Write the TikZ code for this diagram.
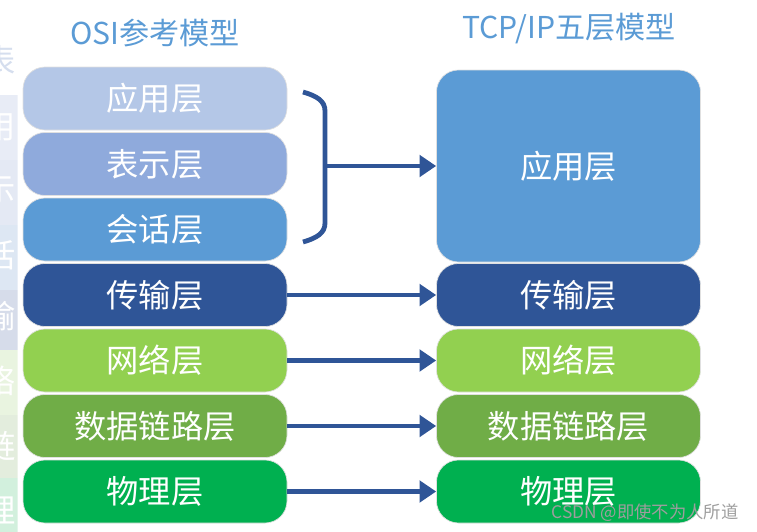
\documentclass[tikz,border=0pt]{standalone}
\usepackage{fontspec}
\setmainfont{Noto Sans CJK SC}
\usetikzlibrary{arrows.meta}

\definecolor{appcol}{HTML}{B4C7E7}
\definecolor{prescol}{HTML}{8FAADC}
\definecolor{sesscol}{HTML}{5B9BD5}
\definecolor{transcol}{HTML}{2F5597}
\definecolor{netcol}{HTML}{92D050}
\definecolor{linkcol}{HTML}{70AD47}
\definecolor{physcol}{HTML}{00B050}
\definecolor{arrowblue}{HTML}{2F5597}
\definecolor{titleblue}{HTML}{5B9BD5}

\tikzset{
    layer/.style={rounded corners=16.5pt, draw=black!12, line width=0.5pt,
        text=white, minimum width=198pt, minimum height=47.25pt, inner sep=0pt,
        font=\fontsize{24.2}{28}\selectfont},
    maparrow/.style={draw=arrowblue, line width=3.6pt,
        -{Triangle[length=12.5pt,width=16pt]}},
    bracepen/.style={draw=arrowblue, line width=3.6pt},
    title/.style={text=titleblue, font=\fontsize{22.6}{26}\selectfont},
    ghost/.style={text=white, font=\fontsize{24.2}{28}\selectfont}
}

\begin{document}
\begin{tikzpicture}[x=0.75pt, y=-0.75pt]
    \useasboundingbox (0,0) rectangle (757,532);

    % faded remains of the slide behind, cut at the left edge
    \begin{scope}
        \clip (0,0) rectangle (17.5,532);
        \fill[fill={rgb,255:red,232;green,236;blue,246}] (0,95) rectangle (17.5,160);
        \fill[fill={rgb,255:red,228;green,233;blue,244}] (0,160) rectangle (17.5,225);
        \fill[fill={rgb,255:red,221;green,231;blue,243}] (0,225) rectangle (17.5,290);
        \fill[fill={rgb,255:red,214;green,220;blue,234}] (0,290) rectangle (17.5,350);
        \fill[fill={rgb,255:red,233;green,244;blue,224}] (0,350) rectangle (17.5,415);
        \fill[fill={rgb,255:red,227;green,237;blue,221}] (0,415) rectangle (17.5,478);
        \fill[fill={rgb,255:red,210;green,240;blue,221}] (0,478) rectangle (17.5,532);
        \node[ghost, text={rgb,255:red,213;green,222;blue,238}] (ghosttop) at (0,60) {表};
        \node[ghost] (ghostapp) at (0,127) {用};
        \node[ghost] (ghostpres) at (0,190) {示};
        \node[ghost] (ghostsess) at (0,255) {话};
        \node[ghost] (ghosttrans) at (0,316) {输};
        \node[ghost] (ghostnet) at (0,381) {络};
        \node[ghost] (ghostlink) at (0,446) {链};
        \node[ghost] (ghostphys) at (0,510) {理};
    \end{scope}

    % titles
    \node[title] (osititle) at (155,33) {OSI参考模型};
    \node[title] (tcptitle) at (569,29) {TCP/IP五层模型};

    % OSI seven layers
    \node[layer, fill=appcol] (osiapp) at (155,98.5) {应用层};
    \node[layer, fill=prescol] (osipres) at (155,164) {表示层};
    \node[layer, fill=sesscol] (osisess) at (155,229.5) {会话层};
    \node[layer, fill=transcol] (ositrans) at (155,295) {传输层};
    \node[layer, fill=netcol] (osinet) at (155,360.5) {网络层};
    \node[layer, fill=linkcol] (osilink) at (155,426) {数据链路层};
    \node[layer, fill=physcol] (osiphys) at (155,491.5) {物理层};

    % TCP/IP five layers
    \node[layer, fill=sesscol, minimum height=144pt] (tcpapp) at (568.5,166) {应用层};
    \node[layer, fill=transcol] (tcptrans) at (568.5,295) {传输层};
    \node[layer, fill=netcol] (tcpnet) at (568.5,360.5) {网络层};
    \node[layer, fill=linkcol] (tcplink) at (568.5,426) {数据链路层};
    \node[layer, fill=physcol] (tcpphys) at (568.5,491.5) {物理层};

    % brace over the three upper layers
    \draw[bracepen] (303,92) .. controls (317,96) and (325,101) .. (325,111)
        -- (325,223) .. controls (325,233) and (317,238) .. (303,242);
    \coordinate (bracetip) at (324,166);
    \draw[maparrow] (bracetip) -- (tcpapp.west);

    \draw[maparrow] (ositrans.east) -- (tcptrans.west);
    \draw[maparrow] (osinet.east) -- (tcpnet.west);
    \draw[maparrow] (osilink.east) -- (tcplink.west);
    \draw[maparrow] (osiphys.east) -- (tcpphys.west);

    \node[text=black!38, font=\fontsize{13}{15}\selectfont] (mark) at (645,513) {CSDN @即使不为人所道};
\end{tikzpicture}
\end{document}
